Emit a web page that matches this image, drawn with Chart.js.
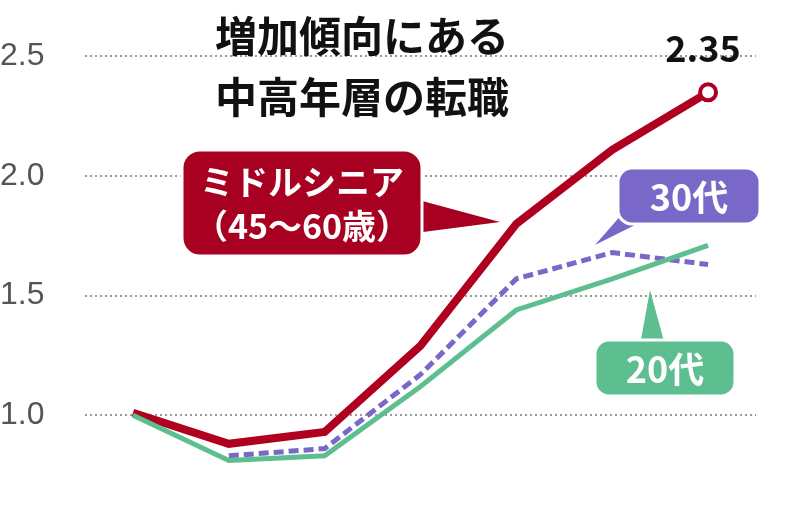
<!DOCTYPE html>
<html><head><meta charset="utf-8">
<script src="https://cdn.jsdelivr.net/npm/chart.js@4/dist/chart.umd.min.js"></script>
<style>html,body{margin:0;padding:0;background:#fff}#w{width:800px;height:513px}</style>
</head><body><div id="w"><canvas id="c"></canvas></div>
<script>
const xs = [0,1,2,3,4,5,6];
const senior = [1.01,0.88,0.93,1.29,1.80,2.11,2.35];
const thirties = [null,0.83,0.86,1.17,1.57,1.68,1.63];
const twenties = [1.00,0.81,0.83,1.12,1.44,1.57,1.71];
const yTicks = [1.0,1.5,2.0,2.5];
const toPts = a => a.map((v,i)=>({x:xs[i],y:v})).filter(p=>p.y!==null);
const F = '"Noto Sans CJK JP","Noto Sans",sans-serif';

function rr(ctx,x,y,w,h,r){ctx.beginPath();ctx.moveTo(x+r,y);ctx.arcTo(x+w,y,x+w,y+h,r);ctx.arcTo(x+w,y+h,x,y+h,r);ctx.arcTo(x,y+h,x,y,r);ctx.arcTo(x,y,x+w,y,r);ctx.closePath();}
const deco = {id:'deco', afterDatasetsDraw(ch){
  const c=ch.ctx; c.save();
  c.fillStyle='#111'; c.textAlign='center'; c.textBaseline='middle';
  c.font='bold 42px '+F;
  c.fillText('増加傾向にある',362,36); c.fillText('中高年層の転職',362,97);
  c.font='bold 36px '+F; c.fillText('2.35',703,48);
  c.fillStyle='#a80020'; c.strokeStyle='#fff'; c.lineWidth=3;
  c.beginPath(); c.moveTo(400,195); c.lineTo(500,222); c.lineTo(400,235); c.closePath(); c.fill();
  rr(c,182,150,240,106,18); c.fill(); c.stroke();
  c.fillStyle='#fff'; c.font='bold 34px '+F;
  c.fillText('ミドルシニア',302,182); c.fillText('（45～60歳）',302,226);
  c.fillStyle='#7a68c8';
  c.beginPath(); c.moveTo(630,205); c.lineTo(595,245); c.lineTo(655,215); c.closePath(); c.fill();
  rr(c,618,168,142,56,14); c.fill(); c.stroke();
  c.fillStyle='#fff'; c.font='bold 36px '+F; c.fillText('30代',689,197);
  c.fillStyle='#5dbf8f';
  c.beginPath(); c.moveTo(640,345); c.lineTo(650,290); c.lineTo(665,345); c.closePath(); c.fill();
  rr(c,595,340,140,56,14); c.fill(); c.stroke();
  c.fillStyle='#fff'; c.fillText('20代',665,369);
  c.restore();
}};

new Chart(document.getElementById('c'),{
  type:'line',
  data:{datasets:[
    {data:toPts(twenties),borderColor:'#5dbf8f',borderWidth:5,pointRadius:0,tension:0},
    {data:toPts(thirties),borderColor:'#7a68c8',borderWidth:5,borderDash:[10,5],pointRadius:0,tension:0},
    {data:toPts(senior),borderColor:'#b00020',borderWidth:8,tension:0,
     pointRadius:senior.map((v,i)=>i===6?8:0),pointBackgroundColor:'#fff',pointBorderColor:'#b00020',pointBorderWidth:4}
  ]},
  options:{responsive:true,maintainAspectRatio:false,animation:false,
    layout:{padding:{left:0,right:44,top:0,bottom:13}},
    plugins:{legend:{display:false},tooltip:{enabled:false}},
    scales:{
      x:{type:'linear',min:-0.5,max:6.5,display:false},
      y:{min:0.671,max:2.656,afterFit:s=>{s.width=85;},
        afterBuildTicks:s=>{s.ticks=yTicks.map(v=>({value:v}));},
        border:{display:false,dash:[2,3]},
        grid:{color:'#999',lineWidth:2,drawTicks:false},
        ticks:{crossAlign:'far',padding:0,color:'#555',font:{size:32,family:'"Liberation Sans",sans-serif'},callback:v=>v.toFixed(1)}}
    }},
  plugins:[deco]
});
</script></body></html>
